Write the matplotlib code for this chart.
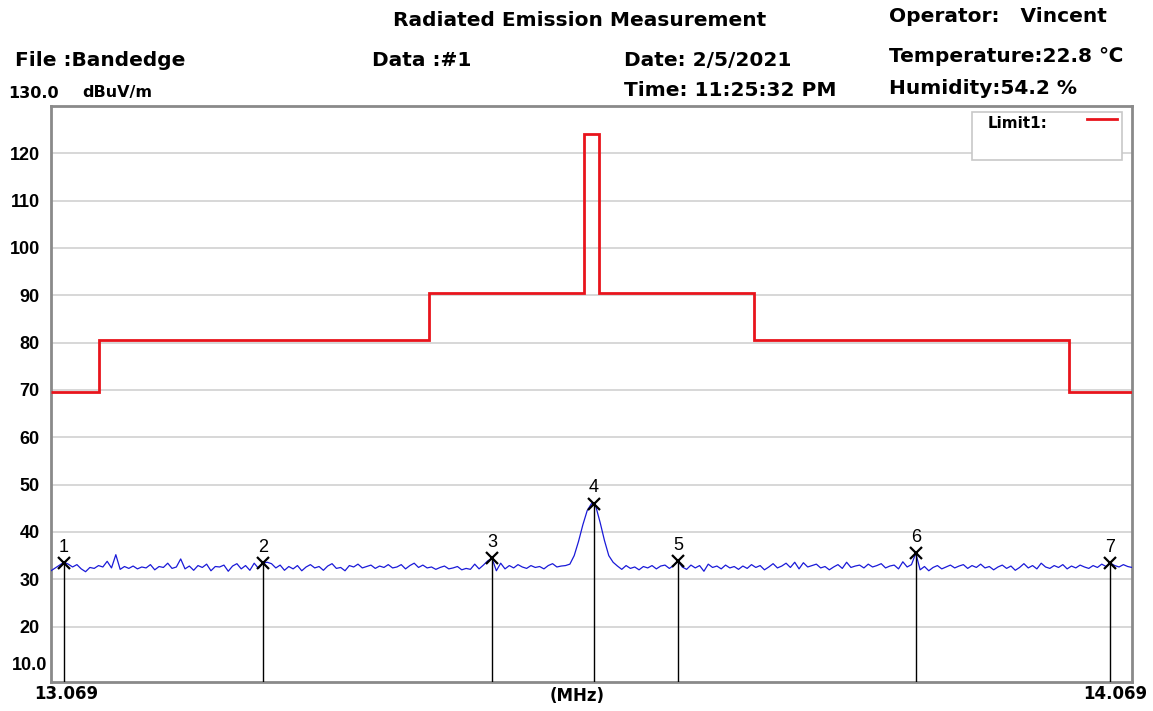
import matplotlib
matplotlib.use('Agg')
import matplotlib.pyplot as plt
import numpy as np
from matplotlib.patches import Rectangle
from matplotlib.lines import Line2D

plt.rcParams['font.family'] = ['Liberation Sans', 'DejaVu Sans']

# Limit1 (dBuV/m) - bandas em MHz
limite_bordas = [13.06, 13.104, 13.41, 13.553, 13.567, 13.71, 14.002, 14.06]
limite_niveis = [69.5, 80.5, 90.5, 124.0, 90.5, 80.5, 69.5]

# varredura: 13.060 .. 14.060 MHz, passo 4 kHz
freq_inicio = 13.06
freq_passo = 0.004
traco = [
    31.8, 32.4, 33.0, 33.6, 33.2, 32.6, 33.1, 32.2, 31.6, 32.5,
    32.3, 32.9, 32.6, 33.8, 32.4, 35.2, 32.1, 32.7, 32.3, 32.8,
    32.2, 32.6, 32.4, 33.1, 32.0, 32.7, 32.5, 33.4, 32.3, 32.6,
    34.3, 32.2, 32.8, 31.9, 32.9, 32.5, 33.2, 31.8, 32.7, 32.6,
    33.0, 31.7, 32.8, 33.3, 32.2, 32.9, 31.9, 33.4, 32.3, 33.4,
    33.6, 33.3, 32.4, 33.0, 31.9, 32.7, 32.2, 32.9, 31.8, 32.6,
    33.1, 32.4, 32.7, 31.9, 32.8, 33.3, 32.3, 32.5, 31.8, 32.9,
    32.6, 33.2, 32.4, 32.7, 33.0, 32.3, 32.8, 32.5, 33.1, 32.4,
    32.6, 33.1, 32.2, 32.9, 33.4, 32.5, 33.0, 32.4, 32.6, 32.1,
    32.5, 32.8, 32.2, 32.4, 32.7, 32.0, 32.3, 32.1, 33.2, 32.2,
    33.0, 33.9, 34.4, 31.8, 33.4, 32.2, 32.9, 32.4, 33.1, 32.6,
    32.3, 32.9, 32.5, 32.7, 32.2, 32.9, 33.3, 32.6, 32.8, 32.9,
    33.2, 35.0, 38.0, 41.5, 44.5, 46.0, 45.4, 42.0, 38.2, 35.0,
    33.6, 32.8, 32.1, 32.9, 32.3, 32.6, 32.0, 32.7, 32.4, 32.9,
    32.2, 32.8, 33.0, 32.3, 32.9, 33.8, 32.6, 32.1, 33.0, 32.4,
    32.9, 31.7, 33.2, 32.5, 32.8, 32.2, 33.0, 32.4, 32.7, 32.1,
    32.8, 32.3, 33.1, 32.5, 32.9, 32.0, 32.6, 33.3, 32.4, 32.8,
    33.4, 32.5, 33.6, 32.2, 33.5, 32.6, 32.9, 33.2, 32.4, 32.7,
    32.0, 32.6, 33.1, 32.3, 33.6, 32.5, 32.8, 33.0, 32.4, 33.2,
    32.6, 32.9, 33.3, 32.4, 32.8, 33.0, 32.2, 33.7, 32.6, 33.1,
    35.5, 32.0, 32.7, 31.8, 32.5, 32.9, 32.2, 32.6, 33.0, 32.4,
    32.8, 33.1, 32.3, 32.9, 32.5, 33.2, 32.4, 32.7, 32.0, 32.6,
    33.0, 32.3, 32.8, 31.9, 32.5, 33.3, 32.4, 32.9, 32.2, 33.4,
    32.6, 32.3, 32.9, 32.5, 33.1, 32.2, 32.8, 32.4, 33.0, 32.6,
    32.3, 32.9, 32.5, 33.2, 32.7, 33.4, 32.9, 32.6, 33.1, 32.7, 32.5,
]

# marcadores
marc_freq = [13.072, 13.256, 13.468, 13.562, 13.640, 13.860, 14.040]
marc_nivel = [33.4, 33.4, 34.4, 46.0, 33.8, 35.5, 33.4]
marc_rotulos = ['1', '2', '3', '4', '5', '6', '7']

y_ticks = [20, 30, 40, 50, 60, 70, 80, 90, 100, 110, 120]

# ========================

freq = freq_inicio + freq_passo * np.arange(len(traco))

fig = plt.figure(figsize=(11.53, 7.11), dpi=100)
ax = fig.add_axes([0.0442, 0.0408, 0.9376, 0.8101])
ax.set_xlim(13.06, 14.06)
ax.set_ylim(8.3, 130)

ax.set_yticks(y_ticks)
ax.set_yticklabels([str(v) for v in y_ticks], fontsize=13, fontweight='bold')
ax.set_xticks([])
ax.tick_params(axis='y', length=0, pad=8)
ax.grid(axis='y', color='#d4d4d4', linewidth=1.3)
ax.set_axisbelow(True)
for s in ax.spines.values():
    s.set_color('#8a8a8a')
    s.set_linewidth(2)

ax.stairs(limite_niveis, limite_bordas, color='#e8141c', linewidth=2.0,
          baseline=None, zorder=3)
ax.plot(freq, traco, color='#1a1ad8', linewidth=0.9, zorder=4)

for f, n, r in zip(marc_freq, marc_nivel, marc_rotulos):
    ax.plot([f, f], [8.3, n], color='black', linewidth=1.0, zorder=5)
    ax.plot(f, n, marker='x', color='black', markersize=9, mew=1.6, zorder=6)
    ax.text(f, n + 1.5, r, ha='center', va='bottom', fontsize=13, zorder=6)

# legenda
ax.add_patch(Rectangle((0.852, 0.906), 0.139, 0.0836, transform=ax.transAxes,
                       facecolor='white', edgecolor='#c8c8c8', linewidth=1.2, zorder=7))
ax.text(0.866, 0.969, 'Limit1:', transform=ax.transAxes, fontsize=11,
        family='DejaVu Sans', fontweight='bold', va='center', ha='left', zorder=8)
ax.add_line(Line2D([0.958, 0.986], [0.977, 0.977], transform=ax.transAxes,
                   color='#e8141c', linewidth=2.0, zorder=8))

# cabeçalho
def px(x, y):
    return x / 1153, 1 - y / 711

cab = dict(fontsize=14.5, fontweight='bold', va='center', family='DejaVu Sans')
fig.text(*px(580, 20), 'Radiated Emission Measurement', ha='center', **cab)
fig.text(*px(15, 60), 'File :Bandedge', ha='left', **cab)
fig.text(*px(372, 60), 'Data :#1', ha='left', **cab)
fig.text(*px(624, 60), 'Date: 2/5/2021', ha='left', **cab)
fig.text(*px(624, 90), 'Time: 11:25:32 PM', ha='left', **cab)
fig.text(*px(889, 17), 'Operator:   Vincent', ha='left', **cab)
fig.text(*px(889, 56), 'Temperature:22.8 \u2103', ha='left', **cab)
fig.text(*px(889, 89), 'Humidity:54.2 %', ha='left', **cab)
pe = dict(fontsize=11.5, fontweight='bold', va='center', ha='left', family='DejaVu Sans')
fig.text(*px(8, 93), '130.0', **pe)
fig.text(*px(82, 93), 'dBuV/m', **pe)
fig.text(*px(47, 666), '10.0', ha='right', fontsize=13, fontweight='bold', va='center')

rod = dict(fontsize=12, fontweight='bold', va='center', ha='center', family='DejaVu Sans')
fig.text(*px(66, 694), '13.069', **rod)
fig.text(*px(577, 696), '(MHz)', **rod)
fig.text(*px(1115, 694), '14.069', **rod)

fig.savefig('out.png', dpi=100, facecolor='white')
